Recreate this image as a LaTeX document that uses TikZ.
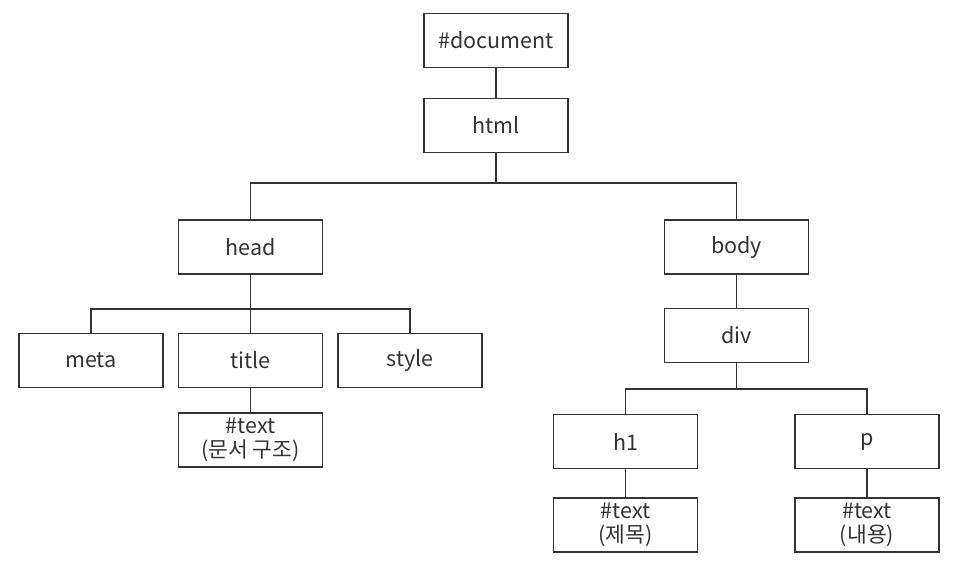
\documentclass[tikz,border=0pt]{standalone}
\usepackage{fontspec}
\setmainfont{Noto Sans CJK KR}
\definecolor{ink}{HTML}{333333}
\begin{document}
\begin{tikzpicture}[x=1pt,y=-1pt,
  box/.style={draw=ink, line width=1.3pt, minimum width=144pt, minimum height=54pt, inner sep=0pt,
    font=\fontsize{21.5}{24.5}\selectfont, text=ink, align=center},
  conn/.style={draw=ink, line width=1.3pt}]
\useasboundingbox (0,0) rectangle (967,578);
\node[box] (doc) at (496,40.5) {\#document};
\node[box] (html) at (496,125.5) {html};
\node[box] (head) at (250.5,247) {head};
\node[box] (body) at (736.5,247) {body};
\node[box] (meta) at (91,360.5) {meta};
\node[box] (title) at (250.5,360.5) {title};
\node[box] (style) at (410,360.5) {style};
\node[box] (t1) at (250.5,440) {\#text\\(문서 구조)};
\node[box] (div) at (736.5,335.5) {div};
\node[box] (h1) at (625.5,441.5) {h1};
\node[box] (p) at (867,441.5) {p};
\node[box] (t2) at (625.5,525) {\#text\\(제목)};
\node[box] (t3) at (867,525) {\#text\\(내용)};
\coordinate (b1) at (496,183);
\coordinate (b2) at (250.5,309);
\coordinate (b3) at (736.5,389);
\draw[conn] (doc.south) -- (html.north);
\draw[conn] (html.south) -- (b1);
\draw[conn] (head.north) |- (b1) -| (body.north);
\draw[conn] (head.south) -- (title.north);
\draw[conn] (meta.north) |- (b2) -| (style.north);
\draw[conn] (title.south) -- (t1.north);
\draw[conn] (body.south) -- (div.north);
\draw[conn] (div.south) -- (b3);
\draw[conn] (h1.north) |- (b3) -| (p.north);
\draw[conn] (h1.south) -- (t2.north);
\draw[conn] (p.south) -- (t3.north);
\end{tikzpicture}
\end{document}
